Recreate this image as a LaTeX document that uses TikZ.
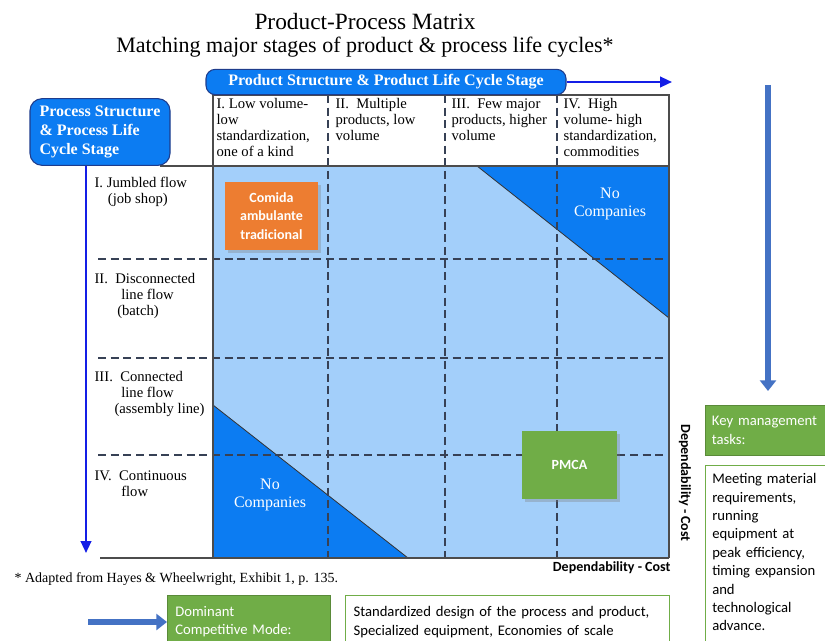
\documentclass[tikz,border=0pt]{standalone}
\usepackage{fontspec}
\setmainfont{Liberation Serif}
\newfontfamily\calibri{Carlito}
\usetikzlibrary{positioning,arrows.meta,shadows}

\definecolor{cellblue}{RGB}{163,207,250}
\definecolor{deepblue}{RGB}{12,124,242}
\definecolor{rimblue}{RGB}{30,60,140}
\definecolor{penblue}{RGB}{20,30,230}
\definecolor{officeblue}{RGB}{68,114,196}
\definecolor{officegreen}{RGB}{112,173,71}
\definecolor{officeorange}{RGB}{237,125,49}
\definecolor{dashgray}{RGB}{55,65,85}

\begin{document}
\begin{tikzpicture}[x=0.75pt,y=-0.75pt,font=\fontsize{11}{12}\selectfont]
    \tikzstyle{gridline}=[draw=dashgray,line width=0.9pt,dash pattern=on 6pt off 3.5pt]
    \tikzstyle{frame}=[draw=black!70,line width=0.8pt]
    \tikzstyle{nocomp}=[fill=deepblue,draw=black!80,line width=0.6pt]
    \tikzstyle{stagebox}=[rectangle,rounded corners=7pt,fill=deepblue,draw=rimblue,line width=0.8pt,text=white,font=\fontsize{12}{14}\selectfont\bfseries,inner sep=3pt]
    \tikzstyle{thinarrow}=[draw=penblue,line width=1.6pt,-{Triangle[length=9pt,width=8pt]}]
    \tikzstyle{fatarrow}=[draw=officeblue,line width=4.5pt,-{Triangle[length=8pt,width=12pt]}]
    \tikzstyle{greenbox}=[rectangle,fill=officegreen,draw=officegreen!80!black,text=white,font=\calibri\fontsize{11}{13.8}\selectfont,align=left,inner xsep=5pt,inner ysep=6pt]
    \tikzstyle{textbox}=[rectangle,fill=white,draw=officegreen,line width=0.9pt,font=\calibri\fontsize{11}{13.8}\selectfont,align=left,inner xsep=5pt,inner ysep=6pt]
    \tikzstyle{chip}=[rectangle,draw=none,text=white,font=\calibri\fontsize{10.5}{14}\selectfont\bfseries,align=center,drop shadow={opacity=0.35}]
    \tikzstyle{emptytxt}=[text=white,align=center,font=\fontsize{12}{13.5}\selectfont]

    \useasboundingbox (0,0) rectangle (825,641);

    % title
    \node (title) at (365,22) {\fontsize{17.5}{19}\selectfont Product-Process Matrix};
    \node (subtitle) at (365,47) {\fontsize{16.5}{19}\selectfont Matching major stages of product \& process life cycles*};

    % matrix body
    \fill[cellblue] (213,166) rectangle (669,558);
    \draw[nocomp] (477,166) -- (669,166) -- (669,318) -- cycle;
    \draw[nocomp] (213,405) -- (408,558) -- (213,558) -- cycle;

    \foreach \x in {328,445,557}
        \draw[gridline] (\x,95) -- (\x,558);
    \foreach \y in {259,358,455}
        \draw[gridline] (98,\y) -- (669,\y);

    \draw[frame] (213,95) rectangle (669,166);
    \draw[frame] (213,166) -- (213,558);
    \draw[frame] (669,166) -- (669,558);
    \draw[frame] (100,558) -- (669,558);
    \draw[frame] (160,166) -- (213,166);

    % column heads
    \foreach \num/\x/\txt in {1/215/{I. Low volume-\\low\\standardization,\\one of a kind},
                             2/334/{II.\ \ Multiple\\products, low\\volume},
                             3/450/{III.\ \ Few major\\products, higher\\volume},
                             4/562/{IV.\ \ High\\volume- high\\standardization,\\commodities}}
        \node[anchor=north west,align=left,inner sep=1pt] (col-\num) at (\x,97) {\txt};

    % row heads
    \foreach \num/\y/\txt in {1/176/{I. Jumbled flow\\\hspace*{10pt}(job shop)},
                             2/272/{II.\ \ Disconnected\\\hspace*{20pt}line flow\\\hspace*{17pt}(batch)},
                             3/370/{III.\ \ Connected\\\hspace*{20pt}line flow\\\hspace*{15pt}(assembly line)},
                             4/469/{IV.\ \ Continuous\\\hspace*{20pt}flow}}
        \node[anchor=north west,align=left,inner sep=1pt] (row-\num) at (93,\y) {\txt};

    % axis labels
    \node[stagebox,minimum width=270pt,minimum height=19pt] (prodstage) at (386,82) {Product Structure \& Product Life Cycle Stage};
    \coordinate (prodend) at (672,82);
    \draw[thinarrow] (prodstage.east) -- (prodend);

    \node[stagebox,rounded corners=9pt,align=left,minimum width=105pt,minimum height=50pt] (procstage) at (100,132) {Process Structure\\\& Process Life\\Cycle Stage};
    \coordinate (procend) at (86,553);
    \draw[thinarrow] (procstage.south -| procend) -- (procend);

    % cells
    \node[emptytxt] (empty-top) at (610,204) {No\\Companies};
    \node[emptytxt] (empty-bottom) at (270,495) {No\\Companies};
    \node[chip,fill=officeorange,minimum width=70pt,minimum height=51pt] (comida) at (271.5,216) {Comida\\ambulante\\tradicional};
    \node[chip,fill=officegreen,minimum width=71pt,minimum height=51pt] (pmca) at (569.5,465) {PMCA};

    \node[anchor=east,font=\calibri\fontsize{10.5}{12}\selectfont\bfseries,inner sep=1pt] (cost-x) at (672,568) {Dependability - Cost};
    \node[rotate=-90,font=\calibri\fontsize{10.5}{12}\selectfont\bfseries,inner sep=1pt] (cost-y) at (685,483) {Dependability - Cost};

    \node[anchor=west,inner sep=1pt,font=\fontsize{10.5}{12}\selectfont] (note) at (13,579) {* Adapted from Hayes \& Wheelwright, Exhibit 1, p. 135.};

    % key tasks
    \coordinate (taskstart) at (768,85);
    \coordinate (taskend) at (768,391);
    \draw[fatarrow] (taskstart) -- (taskend);
    \node[greenbox,anchor=north west,minimum width=90pt,minimum height=37.5pt,text width=100pt] (keytasks) at (705,405) {Key management\\tasks:};
    \node[textbox,anchor=north west,minimum width=90pt,text width=80pt,inner ysep=6pt] (tasklist) at (705,465) {Meeting material\\requirements,\\running\\equipment at\\peak efficiency,\\timing expansion\\and\\technological\\advance.\\\mbox{}};

    % competitive mode
    \node[greenbox,anchor=north west,minimum width=122pt,minimum height=40pt,text width=110pt,inner ysep=5pt] (dominant) at (167,595) {Dominant\\Competitive Mode:};
    \node[textbox,anchor=north west,minimum width=243pt,minimum height=40pt,text width=231pt,inner ysep=5pt] (modelist) at (345,595) {Standardized design of the process and product,\\Specialized equipment, Economies of scale};
    \coordinate (modestart) at (88,622);
    \draw[fatarrow] (modestart) -- (dominant.west |- modestart);
\end{tikzpicture}
\end{document}
